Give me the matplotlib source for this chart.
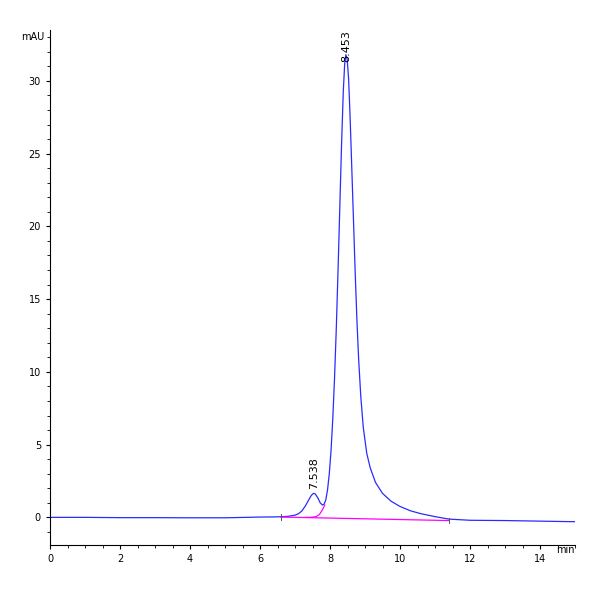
import matplotlib
matplotlib.use("Agg")
import matplotlib.pyplot as plt
from matplotlib.ticker import MultipleLocator

# chromatogram trace (min, mAU)
t = [0, 1, 2, 3, 4, 5, 6, 6.4, 6.6, 6.8, 7.0, 7.1, 7.2, 7.3, 7.38, 7.45, 7.5, 7.538, 7.58, 7.65,
     7.72, 7.78, 7.83, 7.88, 7.93, 7.98, 8.03, 8.08, 8.13, 8.18, 8.23, 8.28, 8.33, 8.38, 8.42,
     8.453, 8.49, 8.53, 8.57, 8.62, 8.67, 8.72, 8.77, 8.82, 8.88, 8.95, 9.05, 9.15, 9.3, 9.5,
     9.75, 10.0, 10.3, 10.6, 11.0, 11.4, 12, 13, 14, 15]
sig = [0.0, 0.0, -0.02, -0.02, -0.03, -0.03, 0.02, 0.03, 0.04, 0.07, 0.15, 0.25, 0.45, 0.8, 1.15,
       1.45, 1.6, 1.65, 1.6, 1.35, 1.0, 0.85, 0.9, 1.2, 1.9, 3.0, 4.6, 6.8, 9.6, 13.0, 17.0,
       21.3, 25.6, 29.3, 31.2, 31.8, 31.5, 30.2, 27.8, 24.2, 20.5, 16.8, 13.5, 10.8, 8.3, 6.2,
       4.4, 3.4, 2.4, 1.65, 1.1, 0.75, 0.45, 0.25, 0.05, -0.12, -0.2, -0.22, -0.26, -0.3]

# integration baseline and peak split
base_t = [6.6, 11.4]
base_y = [0.02, -0.22]
split_t = [7.3, 7.45, 7.6, 7.7, 7.78, 7.85]
split_y = [0.0, 0.0, 0.05, 0.2, 0.5, 0.85]

peak_t = [7.538, 8.453]
peak_y = [1.65, 31.8]
peak_lbl = ["7.538", "8.453"]

fig = plt.figure(figsize=(6, 6), dpi=100)
ax = fig.add_axes([50 / 600, 55 / 600, 525 / 600, 515 / 600])
ax.plot(t, sig, color="#2b2bff", lw=0.9)
ax.plot(base_t, base_y, color="#ff00ff", lw=0.9)
ax.plot(split_t, split_y, color="#ff00ff", lw=0.9)
for bt, by in zip(base_t, base_y):
    ax.plot([bt, bt], [by - 0.2, by + 0.2], color="#555555", lw=0.7)
ax.text(peak_t[0], peak_y[0] + 0.3, peak_lbl[0], rotation=90, ha="center", va="bottom", fontsize=8)
ax.text(peak_t[1], peak_y[1] - 0.5, peak_lbl[1], rotation=90, ha="center", va="bottom", fontsize=8)

ax.set_xlim(0, 15)
ax.set_ylim(-1.9, 33.5)
ax.xaxis.set_major_locator(MultipleLocator(2))
ax.xaxis.set_minor_locator(MultipleLocator(0.5))
ax.yaxis.set_major_locator(MultipleLocator(5))
ax.yaxis.set_minor_locator(MultipleLocator(1))
for s in ["top", "right"]:
    ax.spines[s].set_visible(False)
ax.tick_params(labelsize=7, length=3)
ax.tick_params(which="minor", length=2)
ax.text(-0.01, 33.0, "mAU", ha="right", va="center", fontsize=7, transform=ax.get_yaxis_transform())
ax.text(15.0, -1.9, "min", ha="right", va="top", fontsize=7)
fig.savefig("out.png")
